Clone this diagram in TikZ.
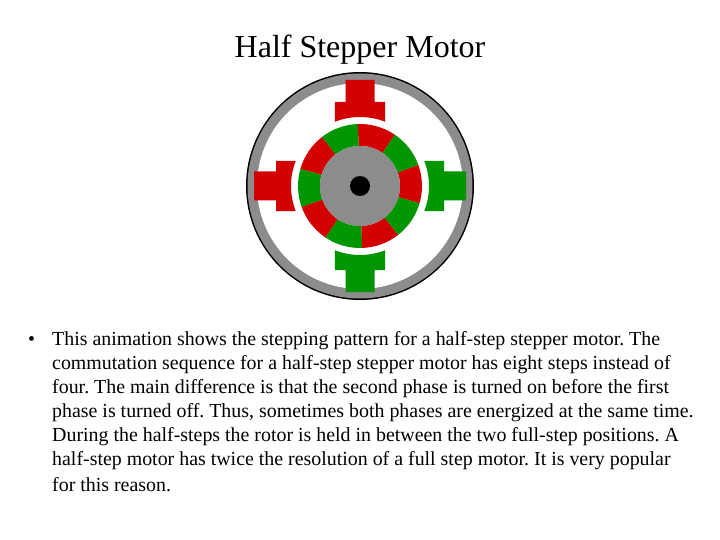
\documentclass[tikz,border=0pt]{standalone}
\usepackage{fontspec}
\setmainfont{Liberation Serif}
\frenchspacing
\definecolor{mred}{RGB}{210,0,0}
\definecolor{mgreen}{RGB}{0,150,0}
\definecolor{mgray}{RGB}{140,140,140}
\begin{document}
\begin{tikzpicture}[x=1pt,y=-1pt,
  txt/.style={anchor=west,inner sep=0pt,font=\fontsize{19.9}{22}\selectfont}]
\useasboundingbox (0,0) rectangle (720,540);
\fill[white] (0,0) rectangle (720,540);
\node[inner sep=0pt,font=\fontsize{32}{36}\selectfont] (title) at (360,50) {Half Stepper Motor};
\begin{scope}[shift={(360,186)}]
\fill[black] (0,0) circle (114);
\fill[mgray] (0,0) circle (112.5);
\fill[white] (0,0) circle (103);
\foreach \a/\c in {88/mgreen,52/mred,16/mgreen,-20/mred,-56/mgreen,-92/mred,-128/mgreen,-164/mred,160/mgreen,124/mred}{
  \fill[\c] (\a:62) arc[start angle=\a,end angle=\a+36,radius=62] -- (\a+36:40) arc[start angle=\a+36,end angle=\a,radius=40] -- cycle;
}
\fill[mgray] (0,0) circle (40);
\fill[black] (0,0) circle (10);
\foreach \r/\c in {90/mred,180/mred,0/mgreen,270/mgreen}{
  \begin{scope}[rotate=\r]
  \fill[\c] (106,-14.5) -- (84,-14.5) -- (84,-25) -- (-21.3:69) arc[start angle=-21.3,end angle=21.3,radius=69] -- (84,25) -- (84,14.5) -- (106,14.5) -- cycle;
  \end{scope}
}
\end{scope}
\node[txt] (b) at (28,341) {•};
\node[txt] (l1) at (52,341) {This animation shows the stepping pattern for a half-step stepper motor. The};
\node[txt] (l2) at (52,365) {commutation sequence for a half-step stepper motor has eight steps instead of};
\node[txt] (l3) at (52,389) {four. The main difference is that the second phase is turned on before the first};
\node[txt] (l4) at (52,413) {phase is turned off. Thus, sometimes both phases are energized at the same time.};
\node[txt] (l5) at (52,437) {During the half-steps the rotor is held in between the two full-step positions. A};
\node[txt] (l6) at (52,461) {half-step motor has twice the resolution of a full step motor. It is very popular};
\node[txt] (l7) at (52,485) {for this reason.};
\end{tikzpicture}
\end{document}
